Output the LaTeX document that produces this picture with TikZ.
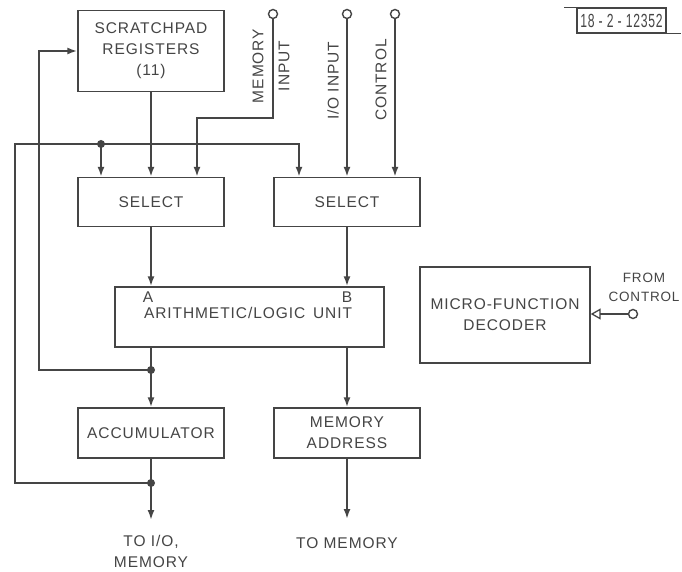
\documentclass[tikz,border=0pt]{standalone}
\usepackage{fontspec}
\setmainfont{Liberation Sans}[LetterSpace=6]
\usetikzlibrary{arrows.meta}
\definecolor{inkgray}{HTML}{454545}

\begin{document}
\begin{tikzpicture}[x=1pt,y=-1pt,
  font=\fontsize{15.5}{21}\selectfont, text=inkgray,
  box/.style={draw=inkgray, line width=1.3pt, align=center, inner sep=0pt},
  bus/.style={draw=inkgray, line width=2.4pt},
  thin/.style={draw=inkgray, line width=1.3pt},
  >={Latex[length=10pt,width=7pt]},
  dot/.style={circle, fill=inkgray, inner sep=0pt, minimum size=8pt},
  pin/.style={circle, draw=inkgray, line width=1.4pt, fill=white, inner sep=0pt, minimum size=9pt},
  vlbl/.style={rotate=90, inner sep=0pt}]
\useasboundingbox[fill=white] (0,0) rectangle (682,572);

\node[box, minimum width=146pt, minimum height=81pt] (scratch) at (151,51) {SCRATCHPAD\\REGISTERS\\(11)};
\node[box, minimum width=146pt, minimum height=49pt] (selA) at (151,202) {SELECT};
\node[box, minimum width=146pt, minimum height=49pt] (selB) at (347,202) {SELECT};
\node[box, minimum width=269pt, minimum height=60pt] (alu) at (249.5,317) {};
\node[inner sep=0pt] (alutext) at (248,313) {ARITHMETIC/LOGIC\, UNIT};
\node[inner sep=0pt] (aluA) at (148,297) {A};
\node[inner sep=0pt] (aluB) at (347,297) {B};
\node[box, minimum width=146pt, minimum height=50pt] (acc) at (151,433) {ACCUMULATOR};
\node[box, minimum width=146pt, minimum height=50pt] (mar) at (347,433) {MEMORY\\ADDRESS};
\node[box, minimum width=170pt, minimum height=96pt] (dec) at (505,315) {MICRO-FUNCTION\\DECODER};

\node[pin] (memin) at (273,14) {};
\node[pin] (ioin) at (347,14) {};
\node[pin] (ctlin) at (395,14) {};
\node[pin] (decin) at (633,314) {};
\node[vlbl] (memlbl) at (258,66) {MEMORY};
\node[vlbl] (inlbl) at (284,66) {INPUT};
\node[vlbl] (iolbl) at (333,81) {I/O INPUT};
\node[vlbl] (ctllbl) at (381,80) {CONTROL};
\node[align=center, inner sep=0pt, font=\fontsize{13.5}{19}\selectfont] (fromctl) at (644,287) {FROM\\CONTROL};

\coordinate (memturn) at (197,118);
\coordinate (busL) at (15,144);
\coordinate (busA) at (101,144);
\coordinate (busB) at (299,144);
\coordinate (fbcol) at (39,0);
\coordinate (aludot) at (151,370);
\coordinate (accdot) at (151,483);
\coordinate (accout) at (151,520);
\coordinate (marout) at (347,519);

\draw[bus,->] (memin) |- (memturn) -- (memturn |- selA.north);
\draw[bus,->] (ioin) -- (ioin |- selB.north);
\draw[bus,->] (ctlin) -- (ctlin |- selB.north);
\draw[bus,->] (scratch) -- (selA);
\draw[bus,->] (accdot) -| (busL) -| (busB |- selB.north);
\draw[bus,->] (busA) -- (busA |- selA.north);
\draw[bus,->] (aludot) -| (fbcol |- scratch.west) -- (scratch.west);
\draw[bus,->] (selA.south) -- (selA.south |- alu.north);
\draw[bus,->] (selB.south) -- (selB.south |- alu.north);
\draw[bus] (alu.south -| acc.north) -- (aludot);
\draw[bus,->] (aludot) -- (acc.north);
\draw[bus,->] (alu.south -| mar.north) -- (mar.north);
\draw[bus] (acc.south) -- (accdot);
\draw[bus,->] (accdot) -- (accout);
\draw[bus,->] (mar.south) -- (marout);
\draw[thin,-{Triangle[open,length=10pt,width=11pt]}] (decin) -- (dec.east |- decin);

\node[dot] (busAdot) at (busA) {};
\node[dot] (aludotn) at (aludot) {};
\node[dot] (accdotn) at (accdot) {};

\node[align=center, inner sep=0pt] (accdest) at (151,551) {TO I/O,\\MEMORY};
\node[inner sep=0pt] (mardest) at (347,543) {TO MEMORY};

\node[draw=inkgray, line width=1.3pt, minimum width=89pt, minimum height=25pt, inner sep=0pt,
  font=\fontsize{19}{19}\selectfont] (tag) at (621.5,20.5) {\scalebox{.64}[1]{18 - 2 - 12352}};
\draw[thin] (tag.north west) -- ++(-12,0);
\draw[thin] (tag.south east) -- ++(14,0);
\end{tikzpicture}
\end{document}
